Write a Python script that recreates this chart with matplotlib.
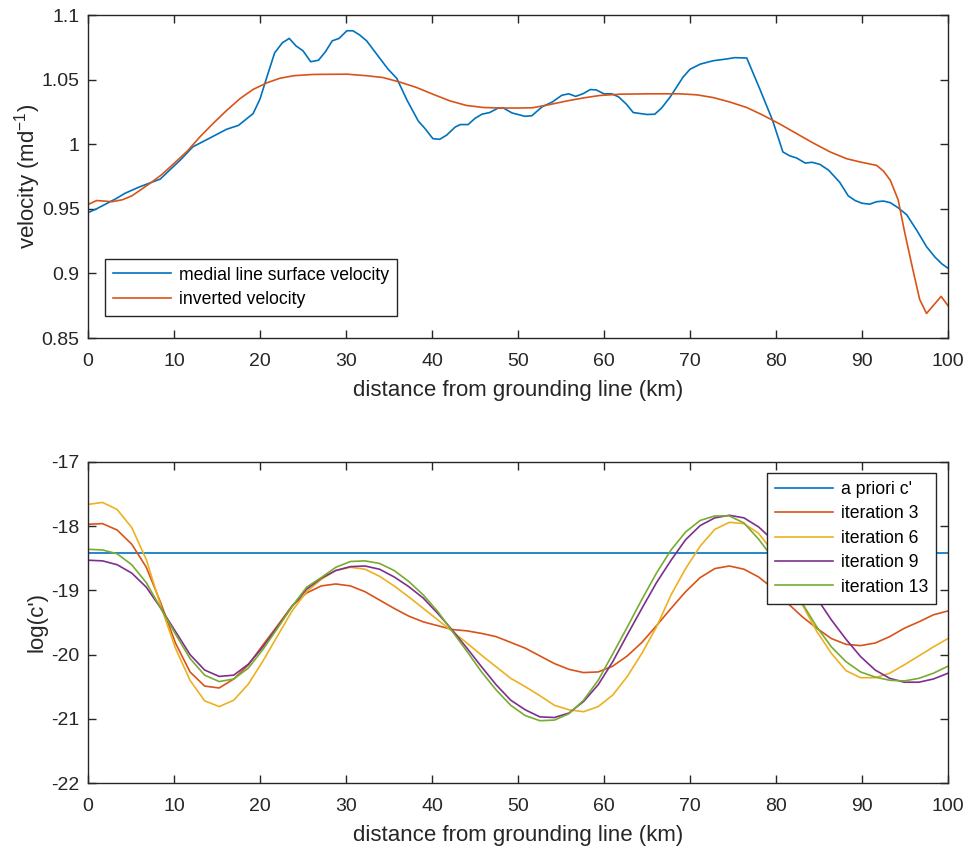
import numpy as np
from matplotlib import pyplot as plt
from matplotlib.ticker import FuncFormatter

plt.rcParams['font.family'] = ['Liberation Sans', 'DejaVu Sans']
plt.rcParams['mathtext.fontset'] = 'custom'
plt.rcParams['mathtext.rm'] = 'Liberation Sans'
plt.rcParams['axes.unicode_minus'] = False

# top panel: medial line surface velocity (km, m/d)
obs_x = [0, 1.0, 3.3, 4.3, 6.0, 7.6, 8.4, 9.5, 10.7, 12.2, 13.8, 16.1, 17.5, 19.2, 20.0,
         20.8, 21.7, 22.6, 23.4, 24.2, 25.0, 25.9, 26.8, 27.6, 28.4, 29.2, 30.1, 30.8,
         31.6, 32.4, 33.5, 34.9, 35.9, 37.1, 38.4, 39.2, 40.1, 40.9, 41.7, 42.7, 43.3,
         44.2, 45.0, 45.8, 46.7, 47.7, 48.3, 49.3, 50.8, 51.6, 52.8, 54.0, 55.1, 55.9,
         56.7, 57.6, 58.4, 59.1, 60.0, 60.9, 61.7, 62.6, 63.4, 65.0, 65.9, 66.7, 67.7,
         69.2, 70.0, 71.2, 72.7, 74.3, 75.2, 76.6, 78.1, 79.6, 80.8, 81.6, 82.4, 83.4,
         84.2, 85.1, 86.1, 87.4, 88.4, 89.2, 90.0, 90.9, 91.7, 92.5, 93.3, 94.2, 95.2,
         96.4, 97.5, 98.5, 99.3, 100]
obs_v = [0.947, 0.950, 0.958, 0.962, 0.967, 0.971, 0.973, 0.980, 0.9875, 0.998, 1.0035,
         1.0115, 1.0146, 1.0237, 1.035, 1.052, 1.0707, 1.0785, 1.0819, 1.076, 1.0723,
         1.0638, 1.065, 1.0715, 1.080, 1.0819, 1.0878, 1.0878, 1.0845, 1.080, 1.0703,
         1.058, 1.051, 1.034, 1.018, 1.012, 1.0043, 1.0038, 1.007, 1.0133, 1.0152, 1.0152,
         1.020, 1.0232, 1.0245, 1.028, 1.028, 1.0242, 1.0216, 1.022, 1.0289, 1.0327,
         1.0379, 1.039, 1.037, 1.0392, 1.0423, 1.042, 1.039, 1.039, 1.0366, 1.031, 1.0245,
         1.023, 1.0232, 1.028, 1.0366, 1.052, 1.058, 1.062, 1.0646, 1.066, 1.067, 1.0667,
         1.043, 1.0185, 0.994, 0.991, 0.9893, 0.9854, 0.986, 0.9844, 0.980, 0.9706, 0.960,
         0.9564, 0.9543, 0.9536, 0.9555, 0.956, 0.9547, 0.9508, 0.9454, 0.933, 0.9207,
         0.9125, 0.9073, 0.904]

inv_x = [0, 1.0, 2.8, 4.0, 5.1, 6.3, 7.4, 8.6, 10.1, 11.6, 13.0, 14.6, 16.1, 17.7, 19.2,
         20.8, 22.3, 23.9, 26.2, 30.1, 32.4, 34.3, 36.3, 38.2, 40.1, 42.1, 44.0, 46.0,
         47.9, 50.0, 51.7, 53.7, 55.7, 57.6, 59.5, 61.9, 65.0, 68.8, 70.8, 72.7, 74.6,
         76.6, 78.5, 80.5, 82.4, 84.3, 86.3, 88.2, 89.8, 91.7, 92.5, 93.3, 94.2, 95.0,
         95.9, 96.7, 97.5, 99.2, 100]
inv_v = [0.9533, 0.9564, 0.9555, 0.957, 0.960, 0.9655, 0.9706, 0.9766, 0.9857, 0.995,
         1.0056, 1.0164, 1.026, 1.0354, 1.0424, 1.0475, 1.051, 1.053, 1.054, 1.0542,
         1.053, 1.0516, 1.048, 1.0439, 1.0387, 1.0335, 1.030, 1.0284, 1.028, 1.028,
         1.0282, 1.0307, 1.0335, 1.0358, 1.0377, 1.0387, 1.039, 1.039, 1.0382, 1.0361,
         1.0327, 1.0284, 1.0224, 1.0154, 1.0082, 1.001, 0.994, 0.9888, 0.9862, 0.9836,
         0.9792, 0.972, 0.957, 0.9306, 0.9034, 0.880, 0.869, 0.8822, 0.875]

# bottom panel: log(c') on a 60 node mesh
x_mesh = np.linspace(0, 100, 60)
apriori = -18.42
it3 = [-17.97, -17.96, -18.06, -18.28, -18.64, -19.20, -19.82, -20.27, -20.49, -20.52,
       -20.38, -20.16, -19.85, -19.55, -19.24, -19.04, -18.93, -18.90, -18.93, -19.02,
       -19.15, -19.28, -19.40, -19.49, -19.55, -19.61, -19.63, -19.67, -19.72, -19.81,
       -19.90, -20.02, -20.14, -20.23, -20.28, -20.27, -20.18, -20.02, -19.81, -19.55,
       -19.28, -19.02, -18.80, -18.66, -18.62, -18.67, -18.79, -18.97, -19.20, -19.41,
       -19.59, -19.75, -19.84, -19.86, -19.82, -19.72, -19.59, -19.49, -19.38, -19.32]
it6 = [-17.66, -17.63, -17.74, -18.02, -18.52, -19.25, -19.90, -20.40, -20.72, -20.81,
       -20.71, -20.46, -20.10, -19.71, -19.32, -19.02, -18.83, -18.69, -18.64, -18.67,
       -18.78, -18.93, -19.10, -19.28, -19.46, -19.64, -19.82, -20.01, -20.19, -20.37,
       -20.50, -20.64, -20.79, -20.86, -20.89, -20.81, -20.63, -20.34, -19.98, -19.57,
       -19.07, -18.66, -18.31, -18.05, -17.94, -17.96, -18.11, -18.40, -18.80, -19.22,
       -19.64, -19.98, -20.25, -20.36, -20.36, -20.29, -20.16, -20.02, -19.88, -19.75]
it9 = [-18.53, -18.54, -18.60, -18.73, -18.95, -19.28, -19.64, -20.00, -20.24, -20.34,
       -20.32, -20.15, -19.88, -19.57, -19.25, -18.98, -18.81, -18.69, -18.63, -18.62,
       -18.67, -18.79, -18.94, -19.12, -19.36, -19.62, -19.90, -20.19, -20.47, -20.71,
       -20.86, -20.97, -20.98, -20.91, -20.73, -20.47, -20.11, -19.69, -19.28, -18.88,
       -18.53, -18.21, -17.99, -17.87, -17.83, -17.87, -18.01, -18.22, -18.50, -18.80,
       -19.12, -19.46, -19.76, -20.03, -20.24, -20.37, -20.43, -20.43, -20.38, -20.29]
it13 = [-18.36, -18.37, -18.43, -18.60, -18.88, -19.28, -19.68, -20.06, -20.32, -20.42,
        -20.38, -20.21, -19.92, -19.59, -19.25, -18.95, -18.80, -18.64, -18.55, -18.54,
        -18.58, -18.69, -18.86, -19.07, -19.33, -19.64, -19.95, -20.27, -20.55, -20.79,
        -20.95, -21.03, -21.02, -20.92, -20.71, -20.40, -19.99, -19.57, -19.14, -18.73,
        -18.37, -18.09, -17.91, -17.84, -17.84, -17.95, -18.20, -18.50, -18.85, -19.20,
        -19.57, -19.88, -20.11, -20.27, -20.35, -20.40, -20.41, -20.37, -20.29, -20.18]

c_blue, c_orange, c_yellow, c_purple, c_green = '#0072BD', '#D95319', '#EDB120', '#7E2F8E', '#77AC30'
axcol = '#262626'
lw = 1.2
leg_kw = dict(borderaxespad=0, fontsize=12.7, handlelength=3.3, handletextpad=0.45,
              fancybox=False, framealpha=1, edgecolor=axcol, labelspacing=0.42,
              borderpad=0.45)

f, (ax1, ax2) = plt.subplots(nrows=2, ncols=1, figsize=(9.68, 8.51), dpi=100)
ax1.set_position([88/968, 1-338/851, 860/968, 323/851])
ax2.set_position([88/968, 1-783/851, 860/968, 321/851])

ax1.plot(obs_x, obs_v, c=c_blue, linewidth=lw, label="medial line surface velocity")
ax1.plot(inv_x, inv_v, c=c_orange, linewidth=lw, label="inverted velocity")
ax1.set_xlim(0, 100)
ax1.set_ylim(0.85, 1.1)
ax1.set_yticks(np.arange(0.85, 1.1001, 0.05))
ax1.set_ylabel("velocity (md$^{\\mathregular{-1}}$)", fontsize=16, color=axcol, labelpad=-1)
ax1.set_xlabel("distance from grounding line (km)", fontsize=16, color=axcol, labelpad=7)
ax1.legend(loc="lower left", bbox_to_anchor=(17/860, 22/323), **leg_kw)

ax2.plot([0, 100], [apriori, apriori], c=c_blue, linewidth=lw, label="a priori c'")
ax2.plot(x_mesh, it3, c=c_orange, linewidth=lw, label="iteration 3")
ax2.plot(x_mesh, it6, c=c_yellow, linewidth=lw, label="iteration 6")
ax2.plot(x_mesh, it9, c=c_purple, linewidth=lw, label="iteration 9")
ax2.plot(x_mesh, it13, c=c_green, linewidth=lw, label="iteration 13")
ax2.set_xlim(0, 100)
ax2.set_ylim(-22, -17)
ax2.set_ylabel("log(c')", fontsize=16, color=axcol, labelpad=3)
ax2.set_xlabel("distance from grounding line (km)", fontsize=16, color=axcol, labelpad=7)
ax2.legend(loc="upper right", bbox_to_anchor=(1-12/860, 1-11/321), **leg_kw)

for ax in (ax1, ax2):
    ax.set_xticks(np.arange(0, 101, 10))
    ax.xaxis.set_major_formatter(FuncFormatter(lambda v, p: f"{v:g}"))
    ax.yaxis.set_major_formatter(FuncFormatter(lambda v, p: f"{round(v, 4):g}"))
    ax.tick_params(direction='in', top=True, right=True, length=6, width=1,
                   labelsize=14, colors=axcol, pad=6)
    ax.tick_params(axis='x', pad=11)
    for s in ax.spines.values():
        s.set_color(axcol)
        s.set_linewidth(1)

plt.savefig("out.png", dpi=100)
